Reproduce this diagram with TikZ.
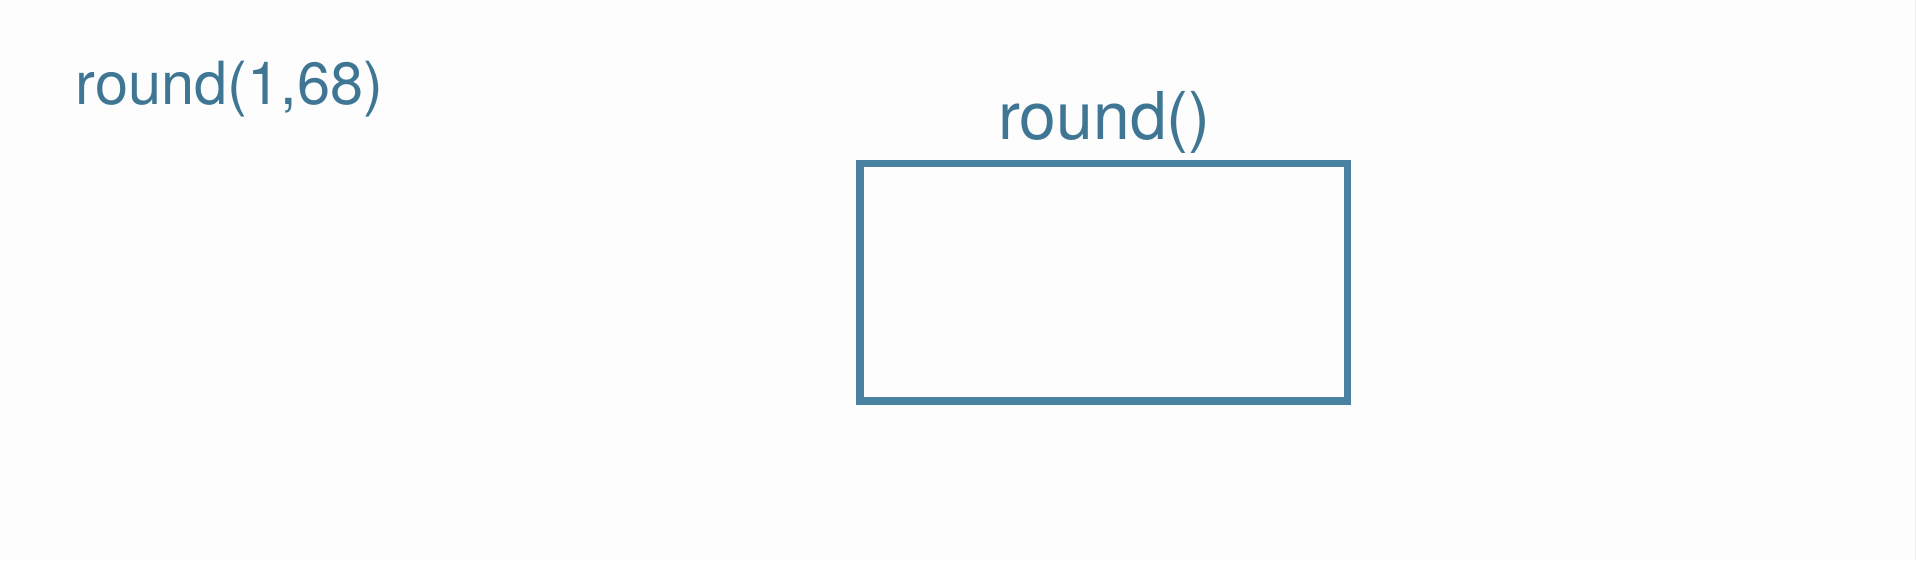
\documentclass[tikz,border=0pt]{standalone}
\usepackage{fontspec}
\setmainfont{TeX Gyre Heros}
\definecolor{txtblue}{RGB}{62,118,148}
\definecolor{boxblue}{RGB}{72,130,160}
\definecolor{bgwhite}{RGB}{253,253,253}
\begin{document}
\begin{tikzpicture}[x=1pt,y=-1pt,
  lbl/.style={text=txtblue,inner sep=0pt,anchor=base},
  frame/.style={draw=boxblue,line width=7.5pt,inner sep=0pt}]
\fill[bgwhite] (0,0) rectangle (1916,560);
\useasboundingbox (0,0) rectangle (1916,560);
\draw[black!8,line width=1pt] (1915,0) -- (1915,560);
\node[lbl,anchor=base west,font=\fontsize{59.5}{68}\selectfont] (t1) at (75.5,104) {round(1,68)};
\node[lbl,font=\fontsize{66}{74}\selectfont] (t2) at (1104.5,139) {round()};
\node[frame,minimum width=487.5pt,minimum height=237.5pt] (box) at (1103.75,282.25) {};
\end{tikzpicture}
\end{document}
